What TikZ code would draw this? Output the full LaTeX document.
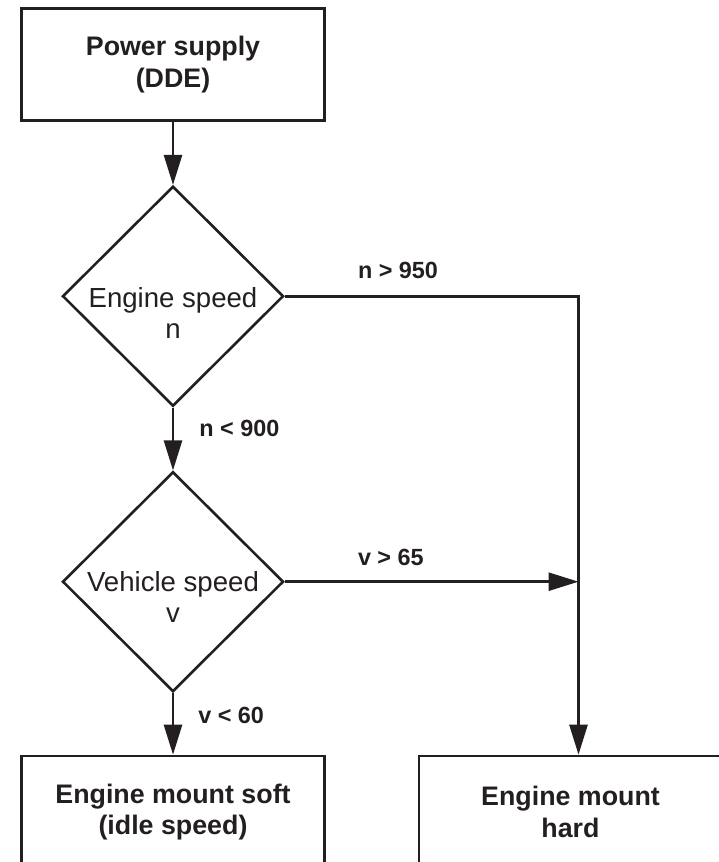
\documentclass[tikz,border=0pt]{standalone}
\usepackage{fontspec}
\setmainfont{Liberation Sans}
\usetikzlibrary{shapes.geometric,arrows.meta}
\definecolor{ink}{RGB}{35,31,32}
\begin{document}
\begin{tikzpicture}[x=1pt,y=-1pt,line width=2.6pt,
  box/.style={draw=ink,rectangle,minimum width=303pt,minimum height=112pt,inner sep=0pt,align=center,font=\fontsize{26.8}{31.5}\selectfont\bfseries,text=ink},
  dec/.style={draw=ink,diamond,minimum width=221pt,minimum height=220pt,inner sep=0pt},
  dtext/.style={anchor=north,align=center,inner sep=0pt,font=\fontsize{27.6}{31.4}\selectfont,text=ink},
  lab/.style={anchor=base west,inner sep=0pt,font=\fontsize{23.4}{27}\selectfont\bfseries,text=ink},
  arr/.style={draw=ink,-{Triangle[length=30pt,width=18pt]}}]
\useasboundingbox (0,0) rectangle (719,862);
\clip (0,0) rectangle (719,862);
\node[box] (pwr) at (173,64.7) {Power supply\\(DDE)};
\node[dec] (d1) at (173,296.2) {};
\node[dtext] (t1) at (173,286.2) {Engine speed\\n};
\node[dec] (d2) at (173,581.7) {};
\node[dtext] (t2) at (173,570.2) {Vehicle speed\\v};
\node[box] (soft) at (173,812) {Engine mount soft\\(idle speed)};
\node[box] (hard) at (570.5,812) {Engine mount\\hard};
\coordinate (railx) at (578.5,0);
\draw[arr] (pwr.south) -- (d1.north);
\draw[arr] (d1.south) -- (d2.north);
\draw[arr] (d2.south) -- (soft.north);
\draw[arr] (d1.east) -| (railx |- hard.north);
\draw[arr] (d2.east) -- (d2.east -| railx);
\node[lab] (l1) at (356.7,278) {n > 950};
\node[lab] (l2) at (198,436.7) {n < 900};
\node[lab] (l3) at (356.7,565) {v > 65};
\node[lab] (l4) at (197,723) {v < 60};
\end{tikzpicture}
\end{document}
